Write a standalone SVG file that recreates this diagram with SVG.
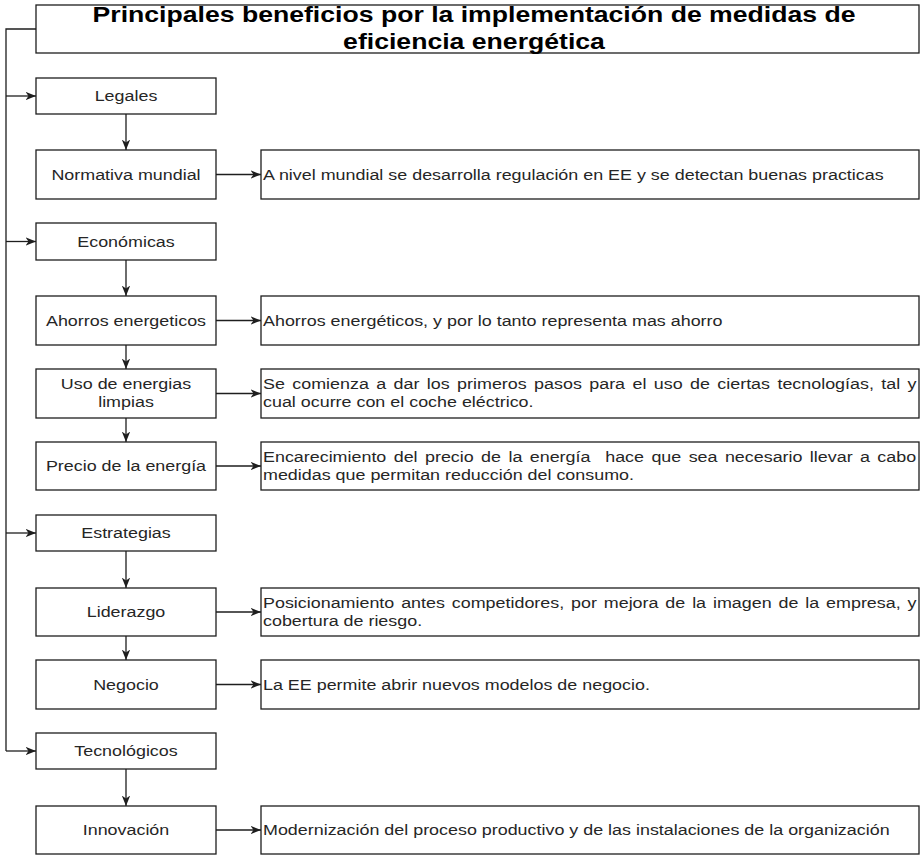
<svg xmlns="http://www.w3.org/2000/svg" width="921" height="855" viewBox="0 0 921 855">
<style>
  .box { fill: #ffffff; stroke: #1e1e1e; stroke-width: 1.3; }
  .ttl { font-family: "Liberation Sans", Arial, sans-serif; font-size: 22px; font-weight: bold; fill: #000; }
  .lbl { font-family: "Liberation Sans", Arial, sans-serif; font-size: 15.5px; fill: #262626; text-anchor: middle; }
  .dsc { font-family: "Liberation Sans", Arial, sans-serif; font-size: 15.5px; fill: #262626; }
  .edge { fill: none; stroke: #1e1e1e; stroke-width: 1.3; }
</style>
<defs>
  <marker id="arr" markerUnits="userSpaceOnUse" markerWidth="11" markerHeight="10" refX="10.5" refY="5" orient="auto">
    <path d="M0,0.8 L10.5,5 L0,9.2 L3,5 Z" fill="#1e1e1e"/>
  </marker>
</defs>
<rect width="921" height="855" fill="#ffffff"/>

<g id="connectors">
  <path class="edge" d="M36,29 H6 V751"/>
  <path class="edge" d="M6,96 H36" marker-end="url(#arr)"/>
  <path class="edge" d="M6,241.5 H36" marker-end="url(#arr)"/>
  <path class="edge" d="M6,533 H36" marker-end="url(#arr)"/>
  <path class="edge" d="M6,751 H36" marker-end="url(#arr)"/>
  <path class="edge" d="M126,114 V150" marker-end="url(#arr)"/>
  <path class="edge" d="M126,260 V296" marker-end="url(#arr)"/>
  <path class="edge" d="M126,345 V369" marker-end="url(#arr)"/>
  <path class="edge" d="M126,418 V442" marker-end="url(#arr)"/>
  <path class="edge" d="M126,551 V588" marker-end="url(#arr)"/>
  <path class="edge" d="M126,636 V660" marker-end="url(#arr)"/>
  <path class="edge" d="M126,769 V806" marker-end="url(#arr)"/>
  <path class="edge" d="M216,174.5 H261" marker-end="url(#arr)"/>
  <path class="edge" d="M216,320.5 H261" marker-end="url(#arr)"/>
  <path class="edge" d="M216,393.5 H261" marker-end="url(#arr)"/>
  <path class="edge" d="M216,466 H261" marker-end="url(#arr)"/>
  <path class="edge" d="M216,612 H261" marker-end="url(#arr)"/>
  <path class="edge" d="M216,684.5 H261" marker-end="url(#arr)"/>
  <path class="edge" d="M216,830 H261" marker-end="url(#arr)"/>
</g>

<g id="title">
  <rect class="box" x="36" y="5" width="883" height="48"/>
  <text class="ttl" text-anchor="middle" transform="translate(474 22) scale(1.21 1)">Principales beneficios por la implementación de medidas de</text>
  <text class="ttl" text-anchor="middle" transform="translate(474 48.5) scale(1.21 1)">eficiencia energética</text>
</g>

<g id="legales">
  <rect class="box" x="36" y="78" width="180" height="36"/>
  <text class="lbl" transform="translate(126 101) scale(1.155 1)">Legales</text>
</g>
<g id="normativa">
  <rect class="box" x="36" y="150" width="180" height="49"/>
  <text class="lbl" transform="translate(126 179.5) scale(1.155 1)">Normativa mundial</text>
</g>
<g id="normativa-desc">
  <rect class="box" x="261" y="150" width="658" height="49"/>
  <text class="dsc" transform="translate(263 179.5) scale(1.155 1)">A nivel mundial se desarrolla regulación en EE y se detectan buenas practicas</text>
</g>

<g id="economicas">
  <rect class="box" x="36" y="223" width="180" height="37"/>
  <text class="lbl" transform="translate(126 246.5) scale(1.155 1)">Económicas</text>
</g>
<g id="ahorros">
  <rect class="box" x="36" y="296" width="180" height="49"/>
  <text class="lbl" transform="translate(126 325.5) scale(1.155 1)">Ahorros energeticos</text>
</g>
<g id="ahorros-desc">
  <rect class="box" x="261" y="296" width="658" height="49"/>
  <text class="dsc" transform="translate(263 325.5) scale(1.155 1)">Ahorros energéticos, y por lo tanto representa mas ahorro</text>
</g>
<g id="uso">
  <rect class="box" x="36" y="369" width="180" height="49"/>
  <text class="lbl" transform="translate(126 389) scale(1.155 1)">Uso de energias</text>
  <text class="lbl" transform="translate(126 407) scale(1.155 1)">limpias</text>
</g>
<g id="uso-desc">
  <rect class="box" x="261" y="369" width="658" height="49"/>
  <text class="dsc" transform="translate(263 389) scale(1.155 1)" word-spacing="2.1">Se comienza a dar los primeros pasos para el uso de ciertas tecnologías, tal y</text>
  <text class="dsc" transform="translate(263 407) scale(1.155 1)">cual ocurre con el coche eléctrico.</text>
</g>
<g id="precio">
  <rect class="box" x="36" y="442" width="180" height="48"/>
  <text class="lbl" transform="translate(126 471) scale(1.155 1)">Precio de la energía</text>
</g>
<g id="precio-desc">
  <rect class="box" x="261" y="442" width="658" height="48"/>
  <text class="dsc" xml:space="preserve" transform="translate(263 461.5) scale(1.155 1)" word-spacing="2.1">Encarecimiento del precio de la energía  hace que sea necesario llevar a cabo</text>
  <text class="dsc" transform="translate(263 479.5) scale(1.155 1)">medidas que permitan reducción del consumo.</text>
</g>

<g id="estrategias">
  <rect class="box" x="36" y="515" width="180" height="36"/>
  <text class="lbl" transform="translate(126 538) scale(1.155 1)">Estrategias</text>
</g>
<g id="liderazgo">
  <rect class="box" x="36" y="588" width="180" height="48"/>
  <text class="lbl" transform="translate(126 617) scale(1.155 1)">Liderazgo</text>
</g>
<g id="liderazgo-desc">
  <rect class="box" x="261" y="588" width="658" height="48"/>
  <text class="dsc" transform="translate(263 607.5) scale(1.155 1)" word-spacing="1.65">Posicionamiento antes competidores, por mejora de la imagen de la empresa, y</text>
  <text class="dsc" transform="translate(263 625.5) scale(1.155 1)">cobertura de riesgo.</text>
</g>
<g id="negocio">
  <rect class="box" x="36" y="660" width="180" height="49"/>
  <text class="lbl" transform="translate(126 689.5) scale(1.155 1)">Negocio</text>
</g>
<g id="negocio-desc">
  <rect class="box" x="261" y="660" width="658" height="49"/>
  <text class="dsc" transform="translate(263 689.5) scale(1.155 1)">La EE permite abrir nuevos modelos de negocio.</text>
</g>

<g id="tecnologicos">
  <rect class="box" x="36" y="733" width="180" height="36"/>
  <text class="lbl" transform="translate(126 756) scale(1.155 1)">Tecnológicos</text>
</g>
<g id="innovacion">
  <rect class="box" x="36" y="806" width="180" height="48"/>
  <text class="lbl" transform="translate(126 835) scale(1.155 1)">Innovación</text>
</g>
<g id="innovacion-desc">
  <rect class="box" x="261" y="806" width="658" height="48"/>
  <text class="dsc" transform="translate(263 835) scale(1.155 1)">Modernización del proceso productivo y de las instalaciones de la organización</text>
</g>
</svg>
